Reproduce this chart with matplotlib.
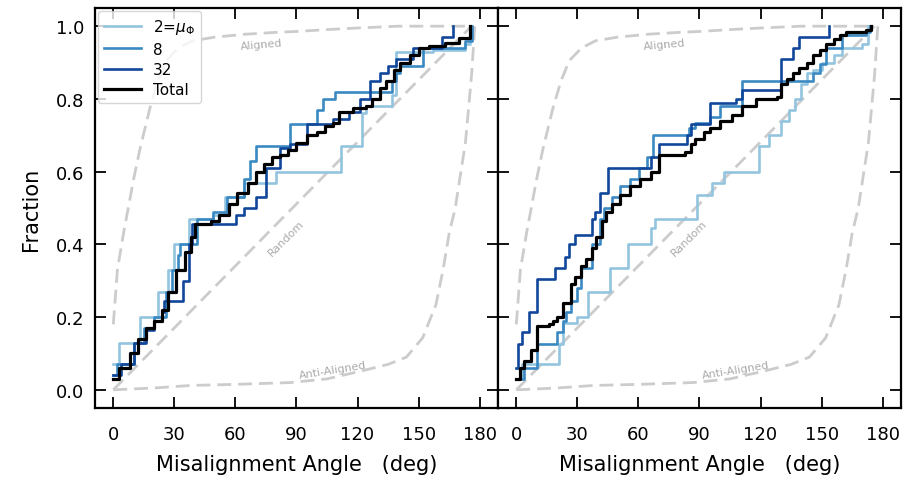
import matplotlib
matplotlib.use("Agg")
import matplotlib.pyplot as plt

# reference curves
aligned_x = [0, 2, 5, 8, 10, 13, 18, 22, 26, 32, 39, 50, 65, 80, 92, 103, 120, 140, 160, 176]
aligned_y = [0.18, 0.33, 0.43, 0.52, 0.58, 0.66, 0.775, 0.85, 0.905, 0.94, 0.96, 0.97, 0.978, 0.983, 0.986, 0.99, 0.995, 1.0, 1.0, 1.0]
anti_x = [0, 20, 38, 60, 87, 105, 122, 135, 144, 152, 158.5, 162, 165, 168, 173, 176, 177.6]
anti_y = [0.0, 0.005, 0.012, 0.015, 0.02, 0.03, 0.052, 0.07, 0.09, 0.143, 0.234, 0.33, 0.43, 0.5, 0.68, 0.865, 1.0]
random_x = [0, 176]
random_y = [0.0, 1.0]

series_names = ["2=$\\mu_\\Phi$", "8", "32", "Total"]
series_colors = ["#93c4df", "#3a89c2", "#11479a", "black"]

# left panel, step CDFs (x = angle of step, y = value after step)
left_x = [
    [0, 3, 13, 22, 27, 30, 37, 49, 55, 64, 80, 112, 122, 124, 137, 139, 157, 173, 175],
    [0, 2, 10, 15, 20, 26, 29, 32, 33, 41, 49, 56, 64, 67, 70, 87, 100, 103, 109, 137, 139, 141, 152, 173, 176],
    [0, 4, 10, 16, 20, 24, 25, 34, 37, 38.5, 60.5, 64, 70, 75, 82, 87, 95, 108, 116, 121, 126, 131, 135, 139, 147, 161.5, 167],
    [0, 3, 8, 12, 16, 20, 24, 27, 31, 35, 38, 40, 48, 52, 57, 61, 66, 70, 74, 78, 82, 86, 90, 95, 100, 104, 108,
     111, 118, 124, 127, 131, 134, 138, 141, 146, 150, 155, 163, 170, 175],
]
left_y = [
    [0.07, 0.13, 0.20, 0.27, 0.33, 0.40, 0.47, 0.48, 0.53, 0.57, 0.60, 0.67, 0.76, 0.78, 0.81, 0.93, 0.935, 0.95, 1.0],
    [0.04, 0.07, 0.13, 0.17, 0.20, 0.27, 0.33, 0.37, 0.40, 0.47, 0.49, 0.53, 0.58, 0.63, 0.67, 0.73, 0.77, 0.80, 0.82,
     0.85, 0.87, 0.89, 0.94, 0.96, 1.0],
    [0.04, 0.07, 0.13, 0.165, 0.19, 0.215, 0.245, 0.30, 0.40, 0.455, 0.48, 0.50, 0.53, 0.61, 0.665, 0.675, 0.73, 0.745,
     0.765, 0.80, 0.85, 0.87, 0.89, 0.91, 0.94, 0.97, 1.0],
    [0.03, 0.06, 0.10, 0.14, 0.17, 0.19, 0.22, 0.27, 0.33, 0.38, 0.42, 0.455, 0.465, 0.48, 0.51, 0.54, 0.57, 0.60, 0.62,
     0.64, 0.645, 0.66, 0.68, 0.70, 0.71, 0.725, 0.735, 0.765, 0.775, 0.78, 0.80, 0.83, 0.85, 0.88, 0.90, 0.92, 0.94,
     0.945, 0.955, 0.967, 1.0],
]

# right panel
right_x = [
    [0, 3, 19, 21, 23, 30, 35, 46, 55, 66, 68, 89, 96, 102, 119, 124, 130, 134, 137, 140, 143, 146, 150, 156, 160, 170, 173],
    [0, 4, 10, 20, 23, 24.5, 27, 30, 32, 37, 41, 43, 47, 51, 56, 60.5, 64, 67, 85, 88, 95, 100, 111, 146, 149, 152, 160, 172, 174],
    [0, 1, 3, 6, 10, 19, 24, 26, 29, 37, 38.5, 41, 45, 66, 70, 84, 86, 95, 108, 111, 130, 136, 139, 153.6],
    [0, 2, 4, 7, 10, 16, 18, 20, 23, 27, 29, 32, 34, 37, 39, 42, 44, 47, 51, 56, 61, 66, 70, 83, 86, 88, 92, 95, 100,
     106, 111, 118, 128, 130, 133, 136, 139, 143, 146, 149, 152, 156, 159, 162, 172, 174.5],
]
right_y = [
    [0.03, 0.07, 0.07, 0.125, 0.185, 0.20, 0.27, 0.335, 0.40, 0.445, 0.47, 0.535, 0.57, 0.60, 0.67, 0.70, 0.74, 0.77,
     0.80, 0.84, 0.87, 0.88, 0.90, 0.92, 0.94, 0.95, 1.0],
    [0.03, 0.06, 0.125, 0.16, 0.19, 0.215, 0.245, 0.28, 0.335, 0.40, 0.47, 0.50, 0.53, 0.56, 0.58, 0.61, 0.64, 0.70,
     0.72, 0.735, 0.75, 0.78, 0.85, 0.87, 0.895, 0.94, 0.975, 0.985, 1.0],
    [0.06, 0.125, 0.16, 0.215, 0.305, 0.335, 0.365, 0.40, 0.425, 0.47, 0.49, 0.54, 0.61, 0.64, 0.675, 0.70, 0.73, 0.79,
     0.80, 0.825, 0.91, 0.94, 0.97, 1.0],
    [0.03, 0.06, 0.08, 0.11, 0.175, 0.18, 0.19, 0.20, 0.24, 0.29, 0.31, 0.34, 0.36, 0.39, 0.42, 0.465, 0.49, 0.51, 0.535,
     0.56, 0.58, 0.60, 0.645, 0.655, 0.675, 0.69, 0.71, 0.72, 0.74, 0.755, 0.78, 0.80, 0.805, 0.84, 0.855, 0.87, 0.885,
     0.90, 0.92, 0.935, 0.95, 0.965, 0.975, 0.985, 0.99, 1.0],
]

xticks = [0, 30, 60, 90, 120, 150, 180]
yticks = [0.0, 0.2, 0.4, 0.6, 0.8, 1.0]

plt.rcParams['font.family'] = ['DejaVu Sans']

fig = plt.figure(figsize=(9.04, 4.85), dpi=100)
ax1 = fig.add_axes([95 / 904, 1 - 409 / 485, 403 / 904, 400 / 485])
ax2 = fig.add_axes([498 / 904, 1 - 409 / 485, 403 / 904, 400 / 485])

gray = "#cccccc"
for ax, xs, ys in [(ax1, left_x, left_y), (ax2, right_x, right_y)]:
    ax.plot(aligned_x, aligned_y, ls=(0, (5, 2.5)), color=gray, lw=2, zorder=1)
    ax.plot(anti_x, anti_y, ls=(0, (5, 2.5)), color=gray, lw=2, zorder=1)
    ax.plot(random_x, random_y, ls=(0, (5, 2.5)), color=gray, lw=2, zorder=1)
    ax.text(73, 0.95, "Aligned", color="#aaaaaa", fontsize=8, rotation=5, ha="center", va="center")
    ax.text(85, 0.418, "Random", color="#aaaaaa", fontsize=8, rotation=45, ha="center", va="center")
    ax.text(107.6, 0.055, "Anti-Aligned", color="#aaaaaa", fontsize=8, rotation=9, ha="center", va="center")

    for i in range(4):
        lw = 2.3 if i == 3 else 1.9
        ax.plot(xs[i], ys[i], drawstyle="steps-post", color=series_colors[i], lw=lw,
                label=series_names[i], zorder=3 + i)

    ax.set_xlim(-9, 189)
    ax.set_ylim(-0.05, 1.05)
    ax.set_xticks(xticks)
    ax.set_yticks(yticks)
    ax.tick_params(direction="in", top=True, right=True, length=8, width=1.3, labelsize=13)
    ax.tick_params(axis="x", pad=12)
    ax.tick_params(axis="y", pad=8)
    for sp in ax.spines.values():
        sp.set_linewidth(1.6)
    ax.set_xlabel("Misalignment Angle   (deg)", fontsize=15, labelpad=8)

ax2.set_yticklabels([])
ax1.set_ylabel("Fraction", fontsize=15, labelpad=10)
ax1.legend(loc="upper left", fontsize=11, handlelength=2.4, labelspacing=0.35,
           borderaxespad=0.2, handletextpad=0.8)

fig.savefig("out.png", dpi=100)
